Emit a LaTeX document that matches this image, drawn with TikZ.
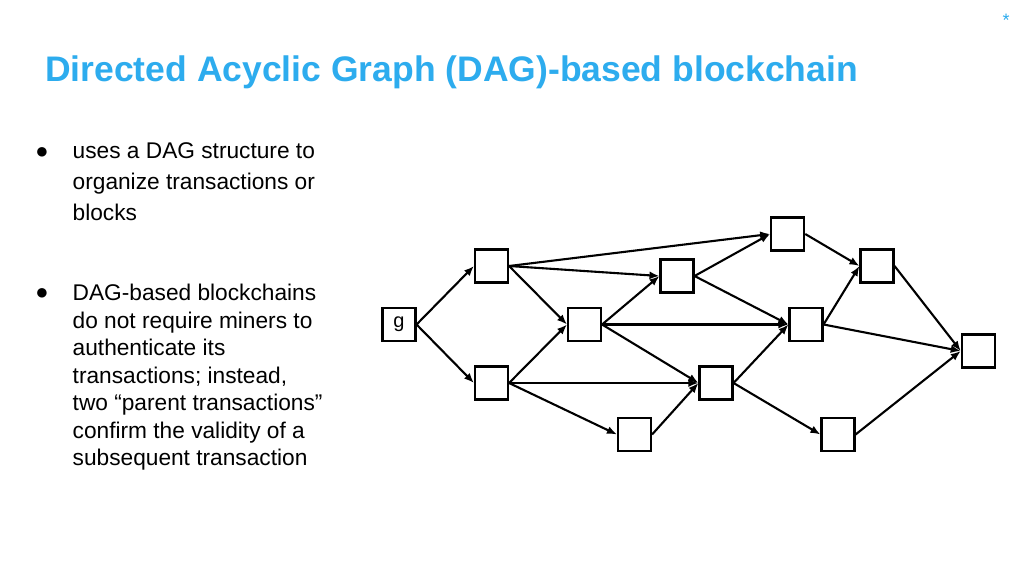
\documentclass[tikz,border=0pt]{standalone}
\usepackage{fontspec}
\setmainfont{Liberation Sans}
\usepackage{xcolor}
\definecolor{titleblue}{RGB}{45,172,238}
\usetikzlibrary{arrows.meta}
\newcommand{\sizetx}{33pt}
\newcommand{\sizebody}{\fontsize{22.7}{27.5}\selectfont}
\tikzset{
    tx/.style={draw, rectangle, line width=2.1pt, minimum size=\sizetx, inner sep=0pt, font=\fontsize{20}{24}\selectfont},
    link/.style={->, line width=2.1pt},
    heading/.style={anchor=base west, inner sep=0pt, text=titleblue, font=\fontsize{35.5}{40}\selectfont\bfseries},
    bulletmark/.style={inner sep=0pt, font=\fontsize{22}{24}\selectfont},
    bodytext/.style={anchor=north west, inner sep=0pt, align=left, font=\sizebody}
}

\begin{document}
\begin{tikzpicture}[x=1pt, y=-1pt, >={Latex[length=10pt,width=8pt]}]
    \useasboundingbox[fill=white] (0,0) rectangle (1024,576);

    % title and corner mark
    \node[heading] (title) at (45,81) {Directed Acyclic Graph (DAG)-based blockchain};
    \node[bulletmark, text=titleblue, font=\fontsize{18}{20}\selectfont] (star) at (1006,20) {*};

    % bullet list
    \node[bulletmark] (dot1) at (42,153) {●};
    \node[bodytext, font=\fontsize{22.7}{31}\selectfont] (item1) at (72.5,142.5)
        {uses a DAG structure to\\organize transactions or\\blocks};
    \node[bulletmark] (dot2) at (42,294) {●};
    \node[bodytext] (item2) at (72.5,284)
        {DAG-based blockchains\\do not require miners to\\authenticate its\\transactions; instead,\\two “parent transactions”\\confirm the validity of a\\subsequent transaction};

    % the DAG
    \node[tx] (g) at (399,324.5) {g};
    \node[tx] (tx1) at (491.5,266) {};
    \node[tx] (tx2) at (491.5,383) {};
    \node[tx] (tx3) at (584.5,324.5) {};
    \node[tx] (tx4) at (677,276) {};
    \node[tx] (tx5) at (634.5,434.5) {};
    \node[tx] (tx6) at (716,383) {};
    \node[tx] (tx7) at (787.7,234) {};
    \node[tx] (tx8) at (806,324.5) {};
    \node[tx] (tx9) at (877,266) {};
    \node[tx] (tx10) at (838,434.5) {};
    \node[tx] (tx11) at (978.3,351) {};

    \path[link]
        (g.east) edge (tx1.west)
        (g.east) edge (tx2.west)
        (tx1.east) edge (tx7.west)
        (tx1.east) edge (tx4.west)
        (tx1.east) edge (tx3.west)
        (tx2.east) edge (tx3.west)
        (tx2.east) edge (tx6.west)
        (tx2.east) edge (tx5.west)
        (tx3.east) edge (tx4.west)
        (tx3.east) edge (tx8.west)
        (tx3.east) edge (tx6.west)
        (tx4.east) edge (tx7.west)
        (tx4.east) edge (tx8.west)
        (tx5.east) edge (tx6.west)
        (tx6.east) edge (tx8.west)
        (tx6.east) edge (tx10.west)
        (tx7.east) edge (tx9.west)
        (tx8.east) edge (tx9.west)
        (tx8.east) edge (tx11.west)
        (tx9.east) edge (tx11.west)
        (tx10.east) edge (tx11.west);
\end{tikzpicture}
\end{document}
